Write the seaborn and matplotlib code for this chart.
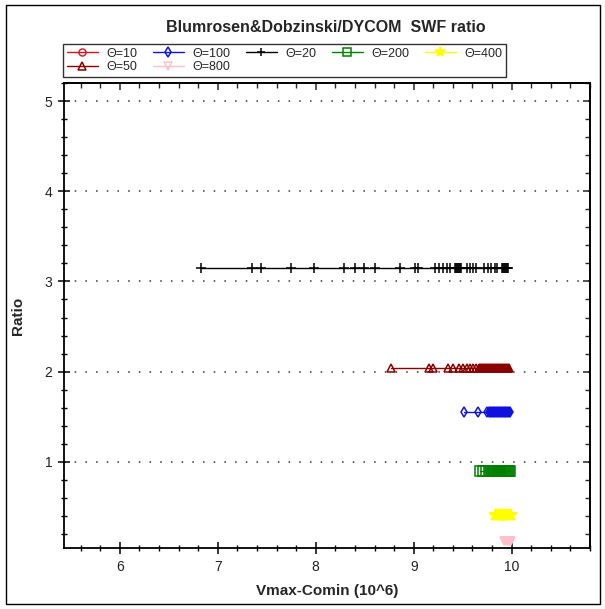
import numpy as np
import pandas as pd
import seaborn as sns
import matplotlib.pyplot as plt
from matplotlib.patches import Rectangle
from matplotlib.ticker import MultipleLocator

# Theta series: x = Vmax-Comin (10^6), one ratio value per series
theta10_x = []
theta10_y = []

theta20_x = [6.83, 7.35, 7.44, 7.75, 7.98, 8.29, 8.40, 8.49, 8.61, 8.86,
             9.01, 9.04, 9.22, 9.26, 9.30, 9.34, 9.37, 9.42, 9.43, 9.44,
             9.45, 9.46, 9.47, 9.48, 9.54, 9.57, 9.61, 9.64, 9.72, 9.76,
             9.79, 9.83, 9.85, 9.90, 9.91, 9.92, 9.93, 9.94, 9.95, 9.96]
theta20_y = 3.15

theta50_x = [8.77, 9.16, 9.20, 9.35, 9.40, 9.46, 9.50, 9.54, 9.57, 9.61,
             9.64, 9.67, 9.68, 9.69, 9.70, 9.71, 9.72, 9.73, 9.74, 9.75,
             9.76, 9.77, 9.78, 9.79, 9.80, 9.81, 9.82, 9.83, 9.84, 9.85,
             9.86, 9.87, 9.88, 9.89, 9.90, 9.91, 9.92, 9.93, 9.94, 9.95,
             9.96, 9.97]
theta50_y = 2.035

theta100_x = [9.51, 9.66, 9.75, 9.77, 9.78, 9.79, 9.80, 9.81, 9.82, 9.83,
              9.84, 9.85, 9.86, 9.87, 9.88, 9.89, 9.90, 9.91, 9.92, 9.93,
              9.94, 9.95, 9.96, 9.97, 9.98]
theta100_y = 1.55

theta200_x = [9.68, 9.71, 9.74, 9.77, 9.79, 9.80, 9.81, 9.82, 9.83, 9.84,
              9.85, 9.86, 9.87, 9.88, 9.89, 9.90, 9.91, 9.92, 9.93, 9.94,
              9.95, 9.96, 9.97, 9.98]
theta200_y = 0.90

theta400_x = [9.83, 9.84, 9.85, 9.86, 9.87, 9.88, 9.89, 9.90, 9.91, 9.92,
              9.93, 9.94, 9.95, 9.96, 9.97, 9.98, 9.99]
theta400_y = 0.41

theta800_x = [9.92, 9.93, 9.94, 9.95, 9.96, 9.97, 9.98, 9.99]
theta800_y = 0.12

sns.set_theme(style="white")
plt.rcParams['font.family'] = ['Liberation Sans', 'DejaVu Sans']

fig = plt.figure(figsize=(6.05, 6.09), dpi=100)
ax = fig.add_axes([0.1058, 0.1002, 0.8694, 0.7635])

# label, x, y, color, marker, markersize
series = [
    ("Θ=10", theta10_x, None, "#e0141e", "o", 6),
    ("Θ=20", theta20_x, theta20_y, "black", "+", 7.5),
    ("Θ=50", theta50_x, theta50_y, "#8b0000", "^", 6),
    ("Θ=100", theta100_x, theta100_y, "#1010e0", "d", 5.5),
    ("Θ=200", theta200_x, theta200_y, "#008000", "s", 6.5),
    ("Θ=400", theta400_x, theta400_y, "#ffff00", "*", 9),
    ("Θ=800", theta800_x, theta800_y, "#ffc0cb", "v", 6),
]

handles = {}
for label, xs, yv, color, marker, ms in series:
    if len(xs) == 0:
        h, = ax.plot([], [], color=color, marker=marker, ms=ms, mfc="none",
                     mec=color, lw=1, label=label)
        handles[label] = h
        continue
    df = pd.DataFrame({"x": xs, "y": [yv] * len(xs)})
    fill = color if marker in ("*",) else "none"
    sns.lineplot(data=df, x="x", y="y", ax=ax, color=color, marker=marker,
                 markersize=ms, markerfacecolor=fill, markeredgecolor=color,
                 markeredgewidth=1.1, linewidth=1.0, estimator=None,
                 errorbar=None, label=label, legend=False)
    handles[label] = ax.get_lines()[-1]

ax.set_xlim(5.43, 10.8)
ax.set_ylim(0.045, 5.2)
ax.xaxis.set_major_locator(MultipleLocator(1))
ax.xaxis.set_minor_locator(MultipleLocator(0.2))
ax.yaxis.set_major_locator(MultipleLocator(1))
ax.yaxis.set_minor_locator(MultipleLocator(0.2))

ax.grid(False)
for yv in [1, 2, 3, 4, 5]:
    ax.axhline(yv, color="#333333", lw=1.1, ls=(0, (1, 6)), zorder=0)

for sp in ax.spines.values():
    sp.set_color("black")
    sp.set_linewidth(1.3)

ax.tick_params(which="major", direction="inout", length=9, width=1.1,
               color="black", labelsize=10, labelcolor="#222222", pad=4,
               bottom=True, left=True)
ax.tick_params(which="minor", direction="inout", length=4.5, width=1.0,
               color="black", bottom=True, left=True)

# top and right ticks pointing inward
top = ax.secondary_xaxis("top")
top.xaxis.set_major_locator(MultipleLocator(1))
top.xaxis.set_minor_locator(MultipleLocator(0.2))
top.tick_params(which="major", direction="in", length=5, width=1.1, labeltop=False)
top.tick_params(which="minor", direction="in", length=3.5, width=1.0)
top.spines["top"].set_linewidth(1.3)
right = ax.secondary_yaxis("right")
right.yaxis.set_major_locator(MultipleLocator(1))
right.yaxis.set_minor_locator(MultipleLocator(0.2))
right.tick_params(which="major", direction="in", length=5, width=1.1, labelright=False)
right.tick_params(which="minor", direction="in", length=3.5, width=1.0)
right.spines["right"].set_linewidth(1.3)

ax.set_xlabel("Vmax-Comin (10^6)", fontsize=11, fontweight="bold", labelpad=7)
ax.set_ylabel("Ratio", fontsize=11, fontweight="bold", labelpad=14)
fig.text(0.538, 0.955, "Blumrosen&Dobzinski/DYCOM  SWF ratio", ha="center",
         va="center", fontsize=11.5, fontweight="bold")

order = ["Θ=10", "Θ=50", "Θ=100", "Θ=800", "Θ=20", "Θ=200", "Θ=400"]
leg = fig.legend([handles[k] for k in order], order, ncol=5,
                 loc="upper left", bbox_to_anchor=(63 / 605, 1 - 44 / 609),
                 frameon=True, fancybox=False, edgecolor="black",
                 fontsize=9, handlelength=2.5, columnspacing=1.25,
                 handletextpad=0.65, labelspacing=0.1, borderpad=0.3,
                 borderaxespad=0, markerscale=0.85)
leg.get_frame().set_linewidth(1.0)

fig.patches.append(Rectangle((6 / 605, 1 - 604 / 609), 594 / 605, 599 / 609,
                             transform=fig.transFigure, fill=False,
                             edgecolor="black", lw=1.0))

fig.savefig("out.png", dpi=100)
